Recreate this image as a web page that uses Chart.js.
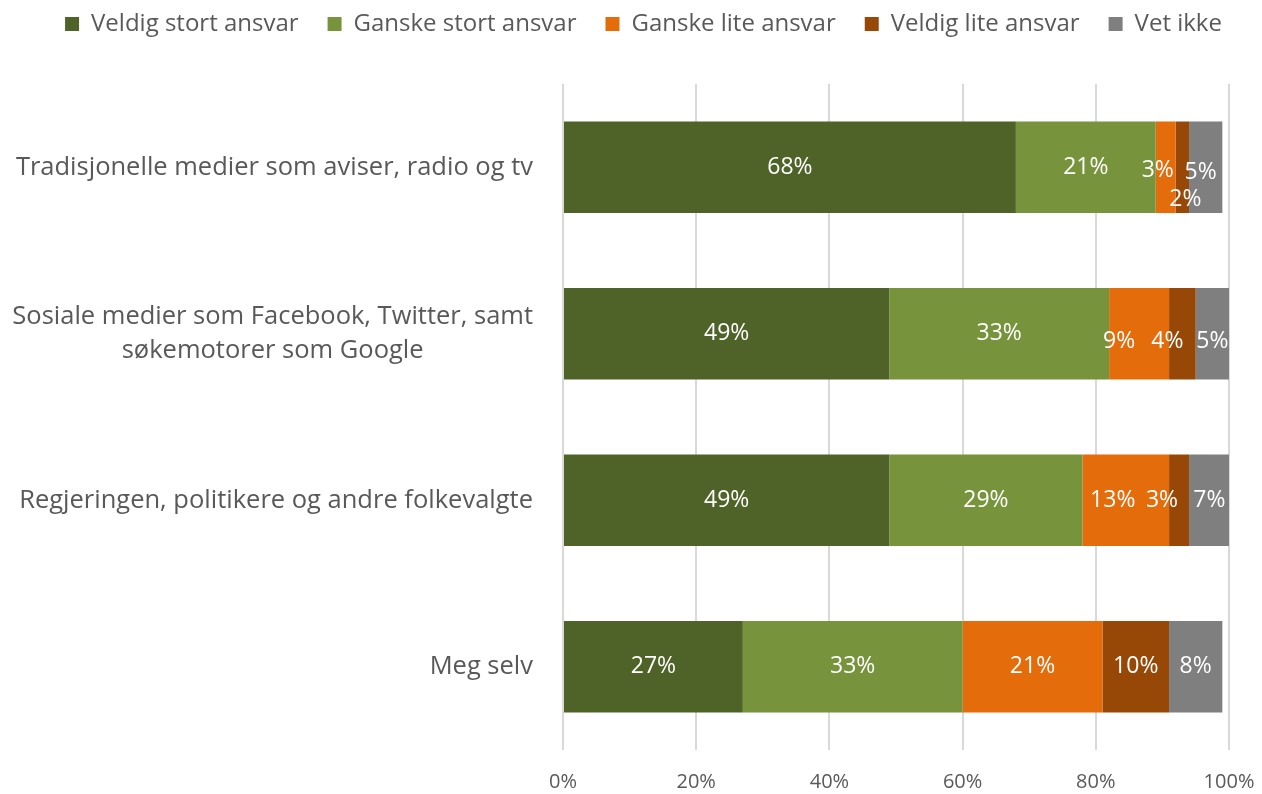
<!DOCTYPE html>
<html>
<head>
<meta charset="utf-8">
<script src="https://cdn.jsdelivr.net/npm/chart.js@4/dist/chart.umd.min.js"></script>
<style>
  html, body { margin: 0; padding: 0; background: #fff; }
  #wrap { width: 1262px; height: 794px; }
</style>
</head>
<body>
<div id="wrap"><canvas id="chart"></canvas></div>
<script>
const categories = [
  ['Tradisjonelle medier som aviser, radio og tv'],
  ['Sosiale medier som Facebook, Twitter, samt', 'søkemotorer som Google'],
  ['Regjeringen, politikere og andre folkevalgte'],
  ['Meg selv']
];
const seriesNames = ['Veldig stort ansvar', 'Ganske stort ansvar', 'Ganske lite ansvar', 'Veldig lite ansvar', 'Vet ikke'];
const veldigStort = [68, 49, 49, 27];
const ganskeStort = [21, 33, 29, 33];
const ganskeLite = [3, 9, 13, 21];
const veldigLite = [2, 4, 3, 10];
const vetIkke = [5, 5, 7, 8];
const xTicks = [0, 20, 40, 60, 80, 100];

const colors = ['#4f6228', '#77933c', '#e46c0a', '#974806', '#7f7f7f'];
const FONT = '"Open Sans", sans-serif';
const TEXT = '#595959';

// Excel nudged a few crowded labels; keyed by "dataset:index" -> [dx, dy]
const labelNudge = { '2:0': [-8, 3], '3:0': [3, 32], '4:0': [-5, 5], '2:1': [-20, 8], '3:1': [-15, 8], '4:1': [0, 8], '2:2': [-13, 0], '3:2': [-17, 0], '4:2': [-3, 0] };

const valueLabels = {
  id: 'valueLabels',
  afterDatasetsDraw(chart) {
    const { ctx } = chart;
    ctx.save();
    ctx.font = '23px ' + FONT;
    ctx.fillStyle = '#fff';
    ctx.textAlign = 'center';
    ctx.textBaseline = 'middle';
    chart.data.datasets.forEach((ds, di) => {
      chart.getDatasetMeta(di).data.forEach((bar, i) => {
        const n = labelNudge[di + ':' + i] || [0, 0];
        const x = (bar.x + bar.base) / 2 + n[0];
        ctx.fillText(ds.data[i] + '%', x, bar.y + n[1]);
      });
    });
    ctx.restore();
  }
};

// Category labels: block right-aligned to the axis, lines centred inside the block
const categoryLabels = {
  id: 'categoryLabels',
  afterDraw(chart) {
    const { ctx } = chart;
    const y = chart.scales.y;
    ctx.save();
    ctx.font = '25.5px ' + FONT;
    ctx.fillStyle = TEXT;
    ctx.textAlign = 'center';
    ctx.textBaseline = 'middle';
    const right = chart.chartArea.left - 30;
    const lh = 34;
    categories.forEach((lines, i) => {
      const w = Math.max(...lines.map(l => ctx.measureText(l).width));
      const cx = right - w / 2;
      const cy = y.getPixelForValue(i) - (lines.length - 1) * lh / 2;
      lines.forEach((l, k) => ctx.fillText(l, cx, cy + k * lh));
    });
    ctx.restore();
  }
};

// Tall legend box, and the legend row sits a little right of centre as in the original
const legendBox = {
  id: 'legendBox',
  beforeInit(chart) {
    const fit = chart.legend.fit;
    chart.legend.fit = function () { fit.bind(chart.legend)(); this.height = 101; };
  },
  afterLayout(chart) {
    chart.legend.left += 29;
    chart.legend.right += 29;
  }
};

const datasets = [veldigStort, ganskeStort, ganskeLite, veldigLite, vetIkke].map((d, i) => ({
  label: seriesNames[i], data: d, backgroundColor: colors[i], borderWidth: 0,
  barPercentage: 0.55, categoryPercentage: 1
}));

new Chart(document.getElementById('chart'), {
  type: 'bar',
  data: { labels: categories.map(c => c.join(' ')), datasets },
  options: {
    indexAxis: 'y', responsive: true, maintainAspectRatio: false, animation: false,
    layout: { padding: { top: -17, right: 33, left: 0, bottom: 0 } },
    plugins: {
      legend: {
        position: 'top',
        labels: { font: { family: FONT, size: 24 }, color: TEXT, boxWidth: 14, boxHeight: 14, padding: 29 }
      },
      tooltip: { enabled: false }
    },
    scales: {
      x: {
        stacked: true, min: 0, max: 100,
        afterBuildTicks(s) { s.ticks = xTicks.map(v => ({ value: v })); },
        afterFit(s) { s.height = 44; s.paddingRight = 0; s.paddingLeft = 0; },
        grid: { color: '#d9d9d9', lineWidth: 2, drawTicks: false },
        border: { display: false },
        ticks: { font: { family: FONT, size: 20 }, color: TEXT, padding: 20, callback: v => v + '%' }
      },
      y: {
        stacked: true,
        afterFit(s) { s.width = 563; },
        grid: { display: false },
        border: { display: false },
        ticks: { display: false }
      }
    }
  },
  plugins: [valueLabels, categoryLabels, legendBox]
});
</script>
</body>
</html>
